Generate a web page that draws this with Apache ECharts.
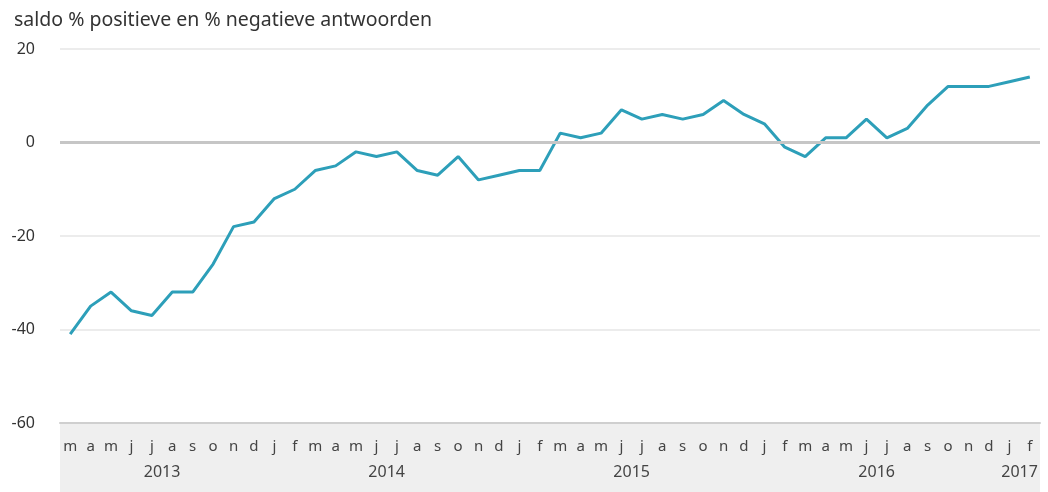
<!DOCTYPE html>
<html>
<head>
<meta charset="utf-8">
<script src="https://cdn.jsdelivr.net/npm/echarts@6/dist/echarts.min.js"></script>
<style>
html,body{margin:0;padding:0;background:#fff;}
#chart{width:1048px;height:492px;}
</style>
</head>
<body>
<div id="chart"></div>
<script>
const titleText = 'saldo % positieve en % negatieve antwoorden';
const months = ['m','a','m','j','j','a','s','o','n','d',
  'j','f','m','a','m','j','j','a','s','o','n','d',
  'j','f','m','a','m','j','j','a','s','o','n','d',
  'j','f','m','a','m','j','j','a','s','o','n','d',
  'j','f'];
const saldo = [-41,-35,-32,-36,-37,-32,-32,-26,-18,-17,
  -12,-10,-6,-5,-2,-3,-2,-6,-7,-3,-8,-7,
  -6,-6,2,1,2,7,5,6,5,6,9,6,
  4,-1,-3,1,1,5,1,3,8,12,12,12,
  13,14];
const years = ['2013','2014','2015','2016','2017'];
const yearCenters = [5,16,28,40,47];
const yTicks = {min:-60, max:20, interval:20};

const font = 'Noto Sans';
const chart = echarts.init(document.getElementById('chart'));
chart.setOption({
  animation:false,
  backgroundColor:'#fff',
  title:{text:titleText,left:9,top:5,textStyle:{fontFamily:font,fontSize:19.5,fontWeight:'normal',color:'#333'}},
  graphic:[{type:'rect',left:60,top:423,shape:{width:980,height:69},style:{fill:'#efefef'},z:-10}],
  grid:{left:60,right:8,top:49,bottom:69},
  xAxis:[
    {type:'category',data:months,boundaryGap:true,position:'bottom',
     axisLine:{onZero:false,lineStyle:{color:'#cfcfcf',width:2}},axisTick:{show:false},
     axisLabel:{interval:0,margin:16,color:'#444',fontFamily:font,fontSize:15}},
    {type:'value',min:0,max:48,position:'bottom',
     axisLine:{show:false},axisTick:{show:false},splitLine:{show:false},
     axisLabel:{customValues:yearCenters,margin:41,color:'#444',fontFamily:font,fontSize:16,
       formatter:function(v){const i=yearCenters.indexOf(v);return i>=0?years[i]:'';}}}
  ],
  yAxis:{type:'value',min:yTicks.min,max:yTicks.max,interval:yTicks.interval,
    axisLine:{show:false},axisTick:{show:false},
    axisLabel:{margin:25,color:'#333',fontFamily:font,fontSize:16},
    splitLine:{lineStyle:{color:'#e6e6e6',width:1.5}}},
  series:[
    {type:'line',data:[],xAxisIndex:0,z:1,silent:true,
     markLine:{silent:true,symbol:'none',label:{show:false},
       lineStyle:{color:'#c6c6c6',width:3,type:'solid'},data:[{yAxis:0}]}},
    {type:'line',data:saldo,xAxisIndex:0,symbol:'none',
     lineStyle:{color:'#2d9fb9',width:3},z:3}
  ]
});
</script>
</body>
</html>
